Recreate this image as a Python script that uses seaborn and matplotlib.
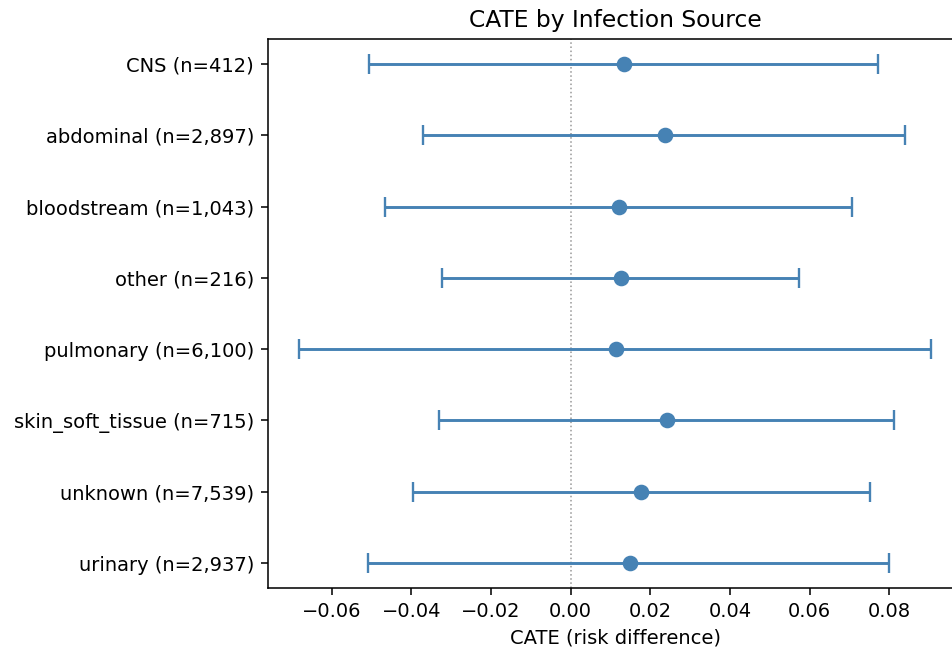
import matplotlib
matplotlib.use("Agg")
import matplotlib.pyplot as plt
import pandas as pd
import seaborn as sns

# CATE estimates per infection source
SOURCES = ['CNS', 'abdominal', 'bloodstream', 'other', 'pulmonary',
           'skin_soft_tissue', 'unknown', 'urinary']
N_PATIENTS = [412, 2897, 1043, 216, 6100, 715, 7539, 2937]
CATE = [0.0133, 0.0237, 0.0120, 0.0125, 0.0113, 0.0242, 0.0177, 0.0148]
CI_LOW = [-0.0507, -0.0370, -0.0467, -0.0323, -0.0681, -0.0331, -0.0397, -0.0509]
CI_HIGH = [0.0772, 0.0840, 0.0706, 0.0572, 0.0905, 0.0811, 0.0750, 0.0800]

COLOR = 'steelblue'


def main():
    df = pd.DataFrame({
        'label': [f'{s} (n={n:,})' for s, n in zip(SOURCES, N_PATIENTS)],
        'cate': CATE,
        'lo': CI_LOW,
        'hi': CI_HIGH,
    })

    dpi = 140
    fig = plt.figure(figsize=(952 / dpi, 654 / dpi), dpi=dpi)
    # axes run past the right edge, as in the reference crop
    ax = fig.add_axes([267.5 / 952, 66 / 654, 695.3 / 952, 549 / 654])

    ypos = list(range(len(df)))
    ax.errorbar(
        x=df['cate'], y=ypos,
        xerr=[df['cate'] - df['lo'], df['hi'] - df['cate']],
        fmt='none', ecolor=COLOR, elinewidth=1.5, capsize=5, capthick=1.2,
        zorder=2,
    )
    sns.pointplot(
        data=df, x='cate', y='label', order=list(df['label']),
        errorbar=None, linestyle='none', color=COLOR, markersize=6,
        ax=ax, zorder=3,
    )
    ax.axvline(0, color='gray', linestyle=':', linewidth=0.8, alpha=0.8, zorder=1)

    ax.set_xlim(-0.0761, 0.0984)
    ax.set_ylim(len(df) - 1 + 0.35, -0.35)
    ax.set_title('CATE by Infection Source')
    ax.set_xlabel('CATE (risk difference)')
    ax.set_ylabel('')

    fig.savefig('out.png', dpi=dpi)
    plt.close(fig)


if __name__ == '__main__':
    main()
